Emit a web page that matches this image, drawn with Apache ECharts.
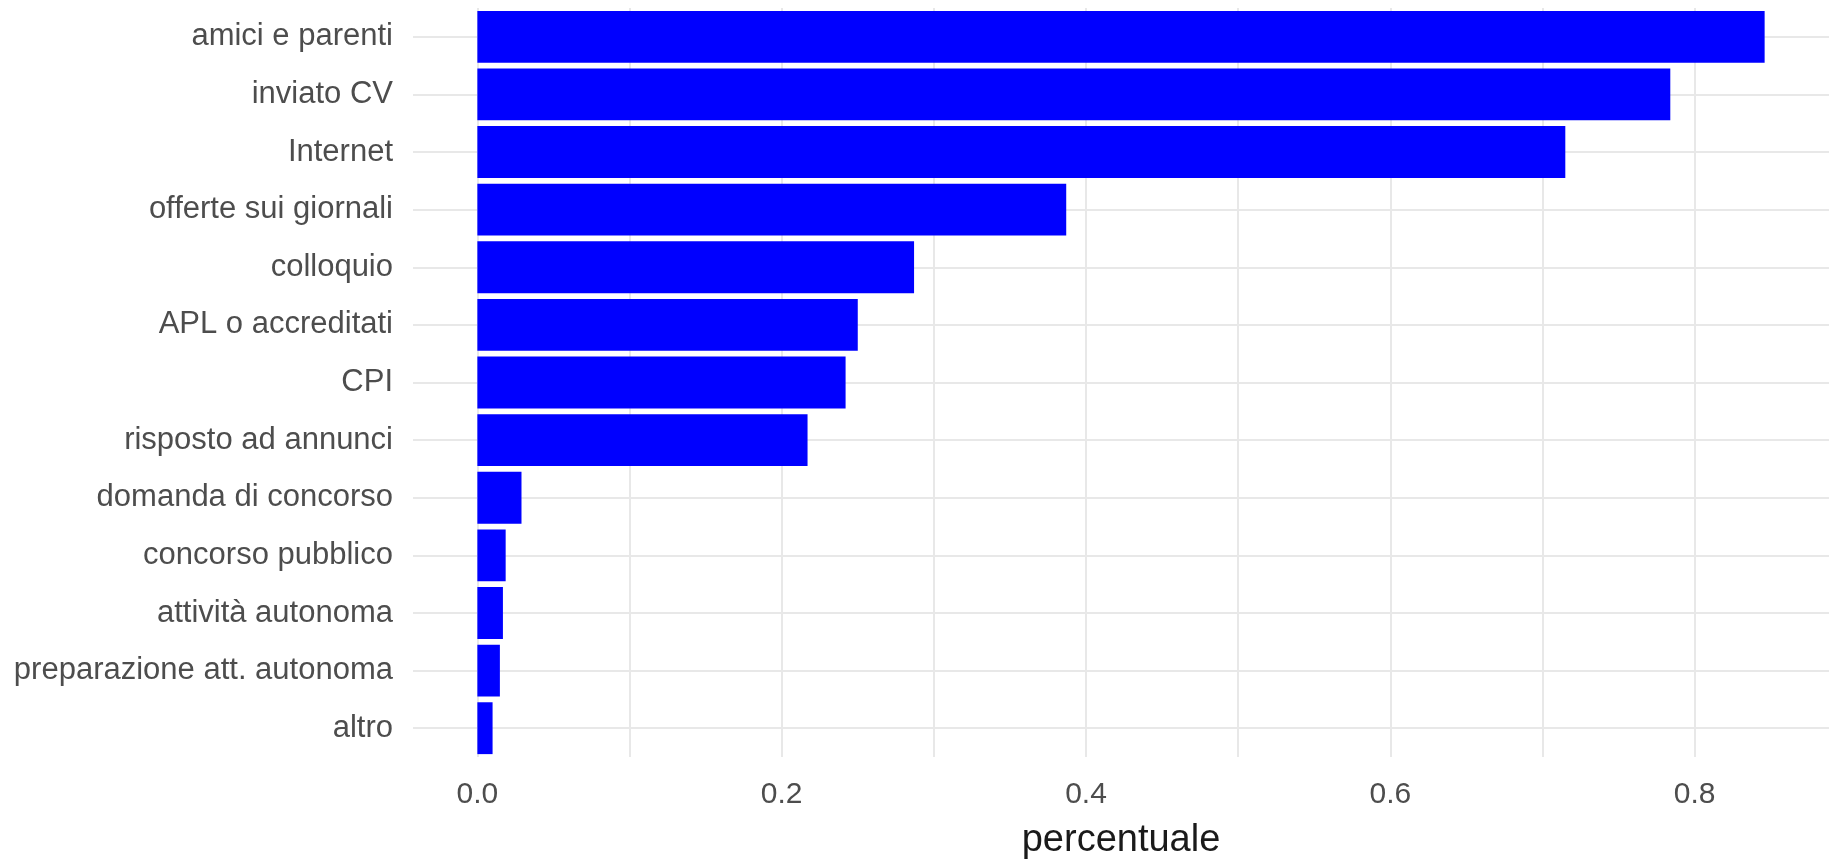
<!DOCTYPE html>
<html>
<head>
<meta charset="utf-8">
<script src="https://cdn.jsdelivr.net/npm/echarts@6/dist/echarts.min.js"></script>
<style>
html,body{margin:0;padding:0;background:#fff;}
#chart{width:1829px;height:865px;}
</style>
</head>
<body>
<div id="chart"></div>
<script>
const categories = ["amici e parenti","inviato CV","Internet","offerte sui giornali","colloquio","APL o accreditati","CPI","risposto ad annunci","domanda di concorso","concorso pubblico","attività autonoma","preparazione att. autonoma","altro"];
const values = [0.846,0.784,0.715,0.387,0.287,0.250,0.242,0.217,0.029,0.0186,0.0168,0.0148,0.0100];
const labelTicks = [0,0.2,0.4,0.6,0.8];
const gridTicks = [0,0.1,0.2,0.3,0.4,0.5,0.6,0.7,0.8];
const xTitle = "percentuale";

const vmax = Math.max(...values);
const chart = echarts.init(document.getElementById('chart'), null, {renderer:'canvas'});
chart.setOption({
  backgroundColor:'#ffffff',
  animation:false,
  grid:{left:413,right:0,top:8,bottom:100,containLabel:false},
  xAxis:{
    type:'value',
    min:-0.05*vmax,
    max:1.05*vmax,
    axisLine:{show:false},
    axisTick:{show:false,customValues:gridTicks},
    splitLine:{show:true,customValues:gridTicks,lineStyle:{color:'#e8e8e8',width:2}},
    axisLabel:{customValues:labelTicks,color:'#4d4d4d',fontSize:30,fontFamily:'Liberation Sans, Arial, sans-serif',margin:23,
      formatter:v=>Number(v).toFixed(1)},
    name:xTitle,
    nameLocation:'middle',
    nameGap:65,
    nameTextStyle:{color:'#1a1a1a',fontSize:38,fontFamily:'Liberation Sans, Arial, sans-serif'}
  },
  yAxis:{
    type:'category',
    data:categories,
    inverse:true,
    axisLine:{show:false},
    axisTick:{show:false,alignWithLabel:true},
    splitLine:{show:true,alignWithLabel:true,lineStyle:{color:'#e8e8e8',width:2}},
    axisLabel:{color:'#4d4d4d',fontSize:31,fontFamily:'Liberation Sans, Arial, sans-serif',margin:20}
  },
  series:[{
    type:'bar',
    data:values,
    barWidth:'90%',
    itemStyle:{color:'#0000ff'}
  }]
});
</script>
</body>
</html>
